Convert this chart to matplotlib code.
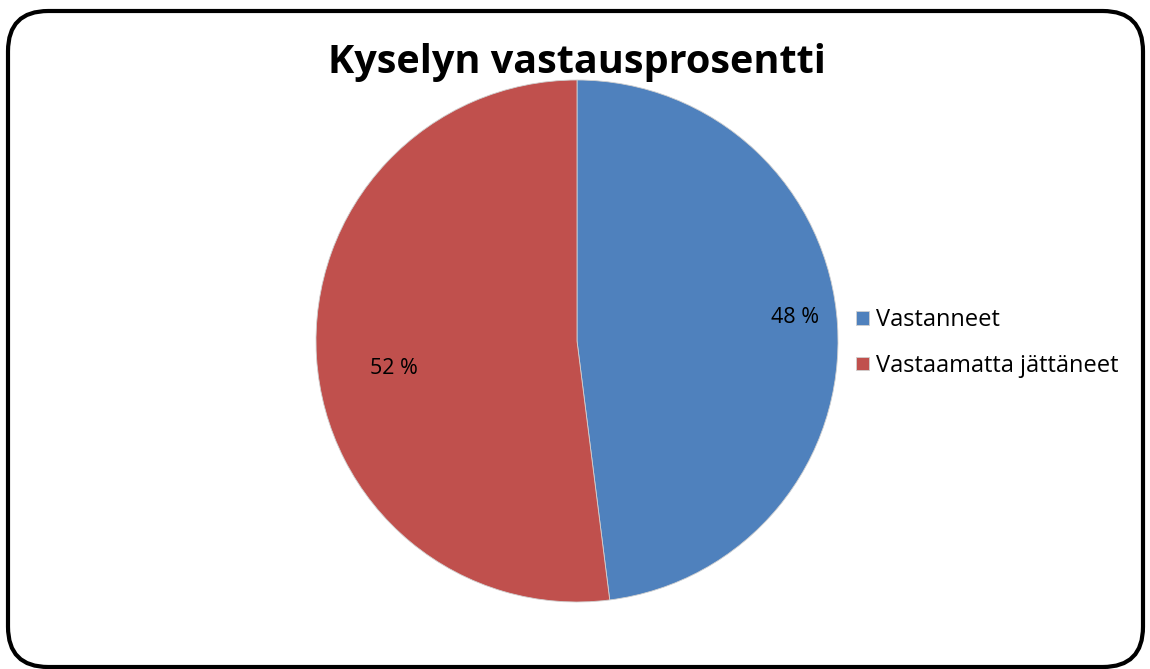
import matplotlib
matplotlib.use('Agg')
import numpy as np
import matplotlib.pyplot as plt
from matplotlib.patches import FancyBboxPatch

labels = ['Vastanneet', 'Vastaamatta jättäneet']
values = [48, 52]
colors = ['#4F81BD', '#C0504D']

plt.rcParams['font.family'] = ['Open Sans', 'DejaVu Sans']

W, H = 1150, 669
fig = plt.figure(figsize=(W / 100, H / 100), dpi=100)

# rounded chart border
border = FancyBboxPatch((8 / W, 2 / H), 1135 / W, 656 / H,
                        boxstyle='round,pad=0,rounding_size=0.035',
                        transform=fig.transFigure, fill=False,
                        edgecolor='black', linewidth=3)
border.set_mutation_aspect(W / H)
fig.patches.append(border)

fig.text(577 / W, 1 - 62 / H, 'Kyselyn vastausprosentti', ha='center', va='center',
         fontsize=28.5, fontweight='bold')

cx, cy, r = 577, 341, 261
ax = fig.add_axes([(cx - r) / W, (H - cy - r) / H, 2 * r / W, 2 * r / H])
wedges, texts, autotexts = ax.pie(values, colors=colors, startangle=90, counterclock=False,
                                  autopct=lambda p: f'{p:.0f} %', pctdistance=0.77,
                                  wedgeprops=dict(linewidth=0.6, edgecolor='#d0d0d0'),
                                  textprops=dict(fontsize=15.5, color='black'))
# excel-like label placement
for w, t, d, shift in zip(wedges, autotexts, [0.84, 0.71], [2.5, 5]):
    a = np.deg2rad((w.theta1 + w.theta2) / 2 + shift)
    t.set_position((d * np.cos(a), d * np.sin(a)))
ax.set_xlim(-1, 1)
ax.set_ylim(-1, 1)
ax.set_aspect('equal')
ax.axis('off')

fig.legend(wedges, labels, loc='center left', bbox_to_anchor=(847 / W, 1 - 343 / H),
           frameon=False, fontsize=17, handlelength=0.53, handleheight=0.53,
           handletextpad=0.3, labelspacing=0.92, borderaxespad=0)

fig.savefig('out.png', dpi=100)
